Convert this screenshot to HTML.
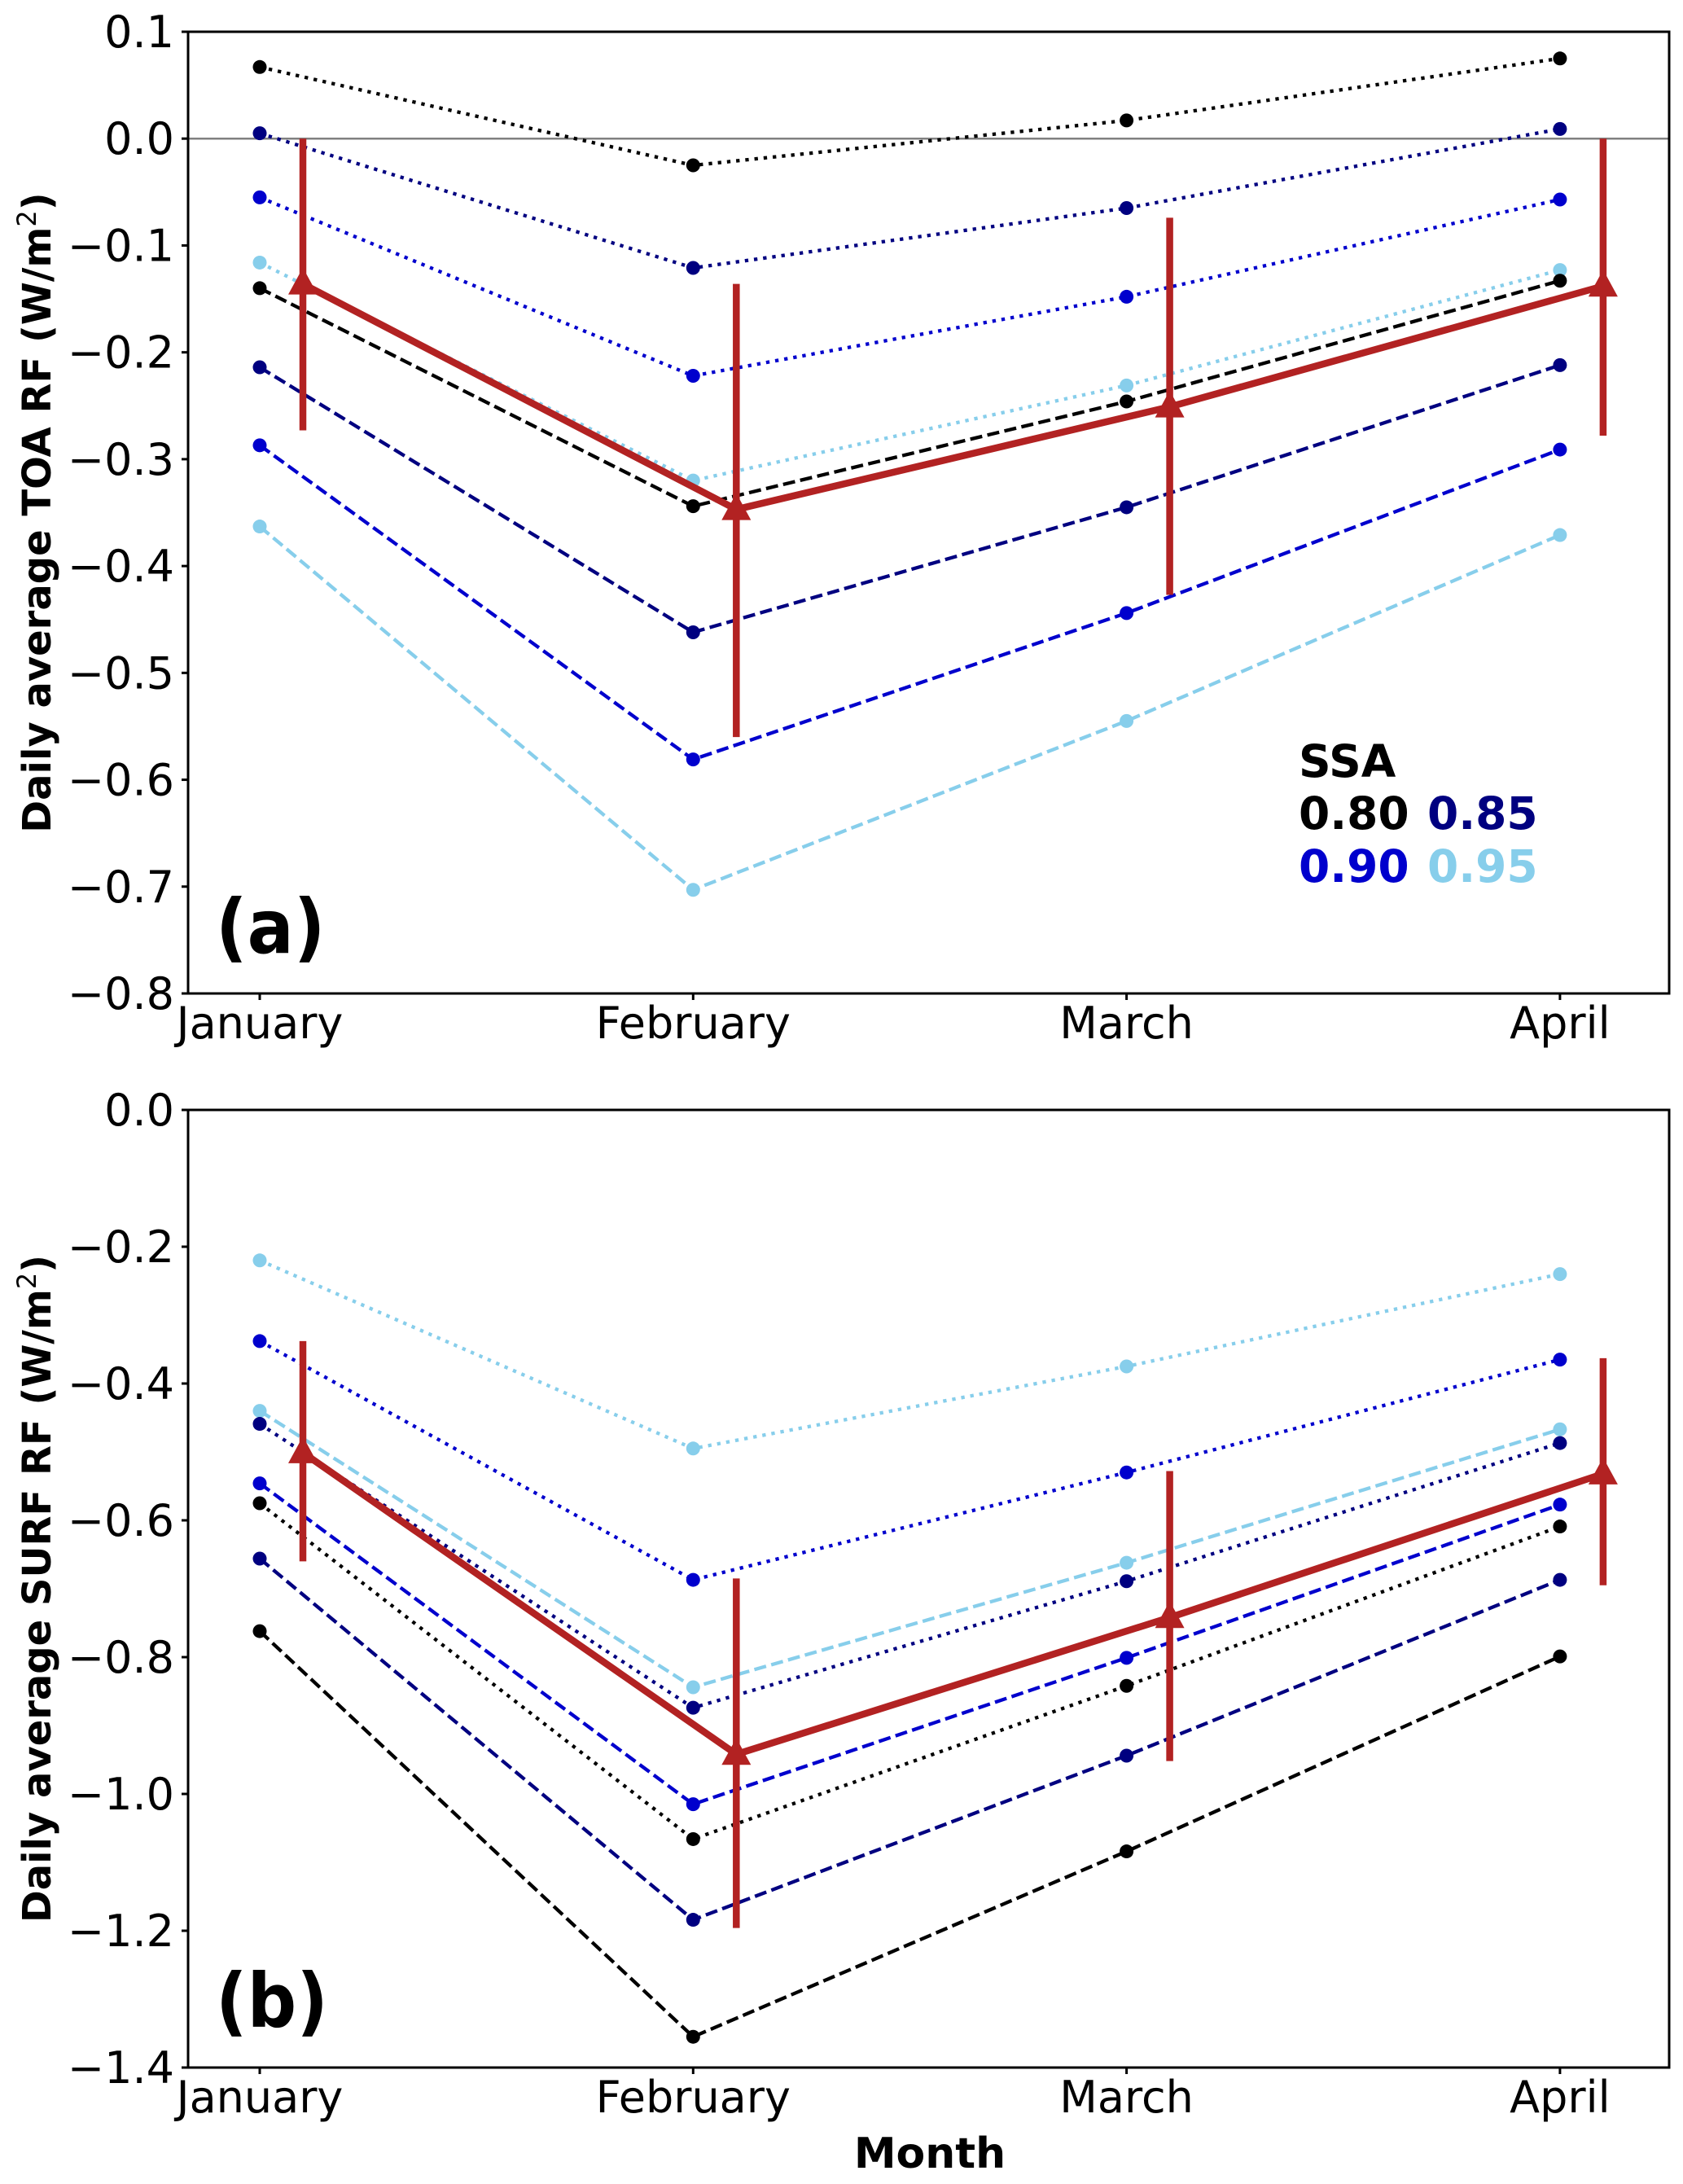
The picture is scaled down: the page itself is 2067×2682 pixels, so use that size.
<!DOCTYPE html>
<html><head><meta charset="utf-8"><style>
html,body{margin:0;padding:0;background:#fff;}
svg{display:block;font-family:"DejaVu Sans","Liberation Sans",sans-serif;}
</style></head><body>
<svg id="fig" width="2067" height="2682" viewBox="0 0 2067 2682" xmlns="http://www.w3.org/2000/svg"></svg>
<script>
const months = ["January","February","March","April"];
const toaDotBlack = [0.067,-0.025,0.017,0.075];
const toaDotNavy = [0.005,-0.121,-0.065,0.009];
const toaDotBlue = [-0.055,-0.222,-0.148,-0.057];
const toaDotSky = [-0.116,-0.320,-0.231,-0.123];
const toaDashBlack = [-0.140,-0.344,-0.246,-0.133];
const toaDashNavy = [-0.214,-0.462,-0.345,-0.212];
const toaDashBlue = [-0.287,-0.581,-0.444,-0.291];
const toaDashSky = [-0.363,-0.703,-0.545,-0.371];
const toaMean = [-0.136,-0.347,-0.251,-0.138];
const toaErrHi = [0.0,-0.136,-0.074,0.0];
const toaErrLo = [-0.273,-0.560,-0.427,-0.278];
const surfDotSky = [-0.220,-0.495,-0.375,-0.240];
const surfDotBlue = [-0.338,-0.687,-0.530,-0.365];
const surfDashSky = [-0.440,-0.844,-0.662,-0.467];
const surfDotNavy = [-0.459,-0.874,-0.689,-0.487];
const surfDashBlue = [-0.546,-1.015,-0.801,-0.577];
const surfDotBlack = [-0.575,-1.066,-0.842,-0.609];
const surfDashNavy = [-0.656,-1.184,-0.944,-0.687];
const surfDashBlack = [-0.762,-1.355,-1.084,-0.799];
const surfMean = [-0.501,-0.942,-0.742,-0.532];
const surfErrHi = [-0.338,-0.685,-0.528,-0.363];
const surfErrLo = [-0.660,-1.196,-0.952,-0.695];
const toaTicks = [0.1,0.0,-0.1,-0.2,-0.3,-0.4,-0.5,-0.6,-0.7,-0.8];
const surfTicks = [0.0,-0.2,-0.4,-0.6,-0.8,-1.0,-1.2,-1.4];

const NS = "http://www.w3.org/2000/svg";
const svg = document.getElementById("fig");
function mk(tag, attrs, parent){
  const e = document.createElementNS(NS, tag);
  for (const k in attrs) e.setAttribute(k, attrs[k]);
  (parent||svg).appendChild(e);
  return e;
}
function fmt(v){ return (v<0?"\u2212":"")+Math.abs(v).toFixed(1); }

const X0=231, X1=2050;
function xs(i){ return 319 + i*532.3; }

function panel(name, top, bottom, ymax, ymin, ticks, series, mean, hi, lo, ylabel, letter, zeroLine){
  const g = mk("g",{});
  
  
  const ys = v => top + (ymax - v)/(ymax - ymin)*(bottom - top);
  if (zeroLine){
    const zl = mk("line",{x1:X0,x2:X1,y1:ys(0),y2:ys(0),stroke:"#808080","stroke-width":2.5},g);
    
    
  }
  series.forEach(s=>{
    const pts = s.vals.map((v,i)=>xs(i)+","+ys(v)).join(" ");
    const pl = mk("polyline",{points:pts,fill:"none",stroke:s.color,"stroke-width":4.3,"stroke-dasharray":s.dash?"15,6.5":"4.3,7"},g);
    
    
    s.vals.forEach((v,i)=>{
      const c = mk("circle",{cx:xs(i),cy:ys(v),r:8.5,fill:s.color},g);
      
      
    });
  });
  const off = 53;
  const ml = mk("polyline",{points:mean.map((v,i)=>(xs(i)+off)+","+ys(v)).join(" "),fill:"none",stroke:"#B22222","stroke-width":8.5,"stroke-linejoin":"round"},g);
  
  
  mean.forEach((v,i)=>{
    const x = xs(i)+off;
    const eb = mk("line",{x1:x,x2:x,y1:ys(hi[i]),y2:ys(lo[i]),stroke:"#B22222","stroke-width":8.5},g);
    
    
    const y = ys(v);
    const tri = mk("polygon",{points:`${x},${y-20} ${x-18},${y+13} ${x+18},${y+13}`,fill:"#B22222"},g);
    
    
  });
  const fr = mk("rect",{x:X0,y:top,width:X1-X0,height:bottom-top,fill:"none",stroke:"#000","stroke-width":3},g);
  
  
  ticks.forEach(t=>{
    const y = ys(t);
    const tk = mk("line",{x1:X0-8,x2:X0,y1:y,y2:y,stroke:"#000","stroke-width":3},g);
    
    
    const tl = mk("text",{x:X0-17,y:y+19,"text-anchor":"end","font-size":54},g);
    tl.textContent = fmt(t);
    
    
  });
  months.forEach((m,i)=>{
    const tk = mk("line",{x1:xs(i),x2:xs(i),y1:bottom,y2:bottom+8,stroke:"#000","stroke-width":3},g);
    
    
    const tl = mk("text",{x:xs(i),y:bottom+55,"text-anchor":"middle","font-size":54},g);
    tl.textContent = m;
    
    
  });
  const cy = (top+bottom)/2;
  const yl = mk("text",{x:0,y:0,transform:`translate(62,${cy}) rotate(-90)`,"text-anchor":"middle","font-size":48,"font-weight":"bold"},g);
  yl.innerHTML = ylabel + ' (W/m<tspan font-weight="normal" font-size="32" dy="-18">2</tspan><tspan dy="18">)</tspan>';
  
  
  const lt = mk("text",{x:265,y:bottom-50,"font-size":92,"font-weight":"bold",transform:`translate(265,0) scale(0.92,1) translate(-265,0)`},g);
  lt.textContent = letter;
  
  
  return g;
}

const K="#000000", N="#000080", B="#0000CD", S="#87CEEB";
panel("toa-panel",39,1220,0.1,-0.8,toaTicks,[
  {name:"toa-dot-black",vals:toaDotBlack,color:K,dash:false},
  {name:"toa-dot-navy",vals:toaDotNavy,color:N,dash:false},
  {name:"toa-dot-blue",vals:toaDotBlue,color:B,dash:false},
  {name:"toa-dot-sky",vals:toaDotSky,color:S,dash:false},
  {name:"toa-dash-black",vals:toaDashBlack,color:K,dash:true},
  {name:"toa-dash-navy",vals:toaDashNavy,color:N,dash:true},
  {name:"toa-dash-blue",vals:toaDashBlue,color:B,dash:true},
  {name:"toa-dash-sky",vals:toaDashSky,color:S,dash:true}
],toaMean,toaErrHi,toaErrLo,"Daily average TOA RF","(a)",true);
panel("surf-panel",1363,2539,0.0,-1.4,surfTicks,[
  {name:"surf-dot-sky",vals:surfDotSky,color:S,dash:false},
  {name:"surf-dot-blue",vals:surfDotBlue,color:B,dash:false},
  {name:"surf-dash-sky",vals:surfDashSky,color:S,dash:true},
  {name:"surf-dot-navy",vals:surfDotNavy,color:N,dash:false},
  {name:"surf-dash-blue",vals:surfDashBlue,color:B,dash:true},
  {name:"surf-dot-black",vals:surfDotBlack,color:K,dash:false},
  {name:"surf-dash-navy",vals:surfDashNavy,color:N,dash:true},
  {name:"surf-dash-black",vals:surfDashBlack,color:K,dash:true}
],surfMean,surfErrHi,surfErrLo,"Daily average SURF RF","(b)",false);

const xt = mk("text",{x:1142,y:2662,"text-anchor":"middle","font-size":52,"font-weight":"bold"});
xt.textContent = "Month";



const legend = [["SSA",1595,954,K],["0.80",1595,1018,K],["0.85",1753,1018,N],["0.90",1595,1083,B],["0.95",1753,1083,S]];
legend.forEach(l=>{
  const t = mk("text",{x:l[1],y:l[2],"font-size":55,"font-weight":"bold",fill:l[3]});
  t.textContent = l[0];
  
  
});
</script>
</body></html>
